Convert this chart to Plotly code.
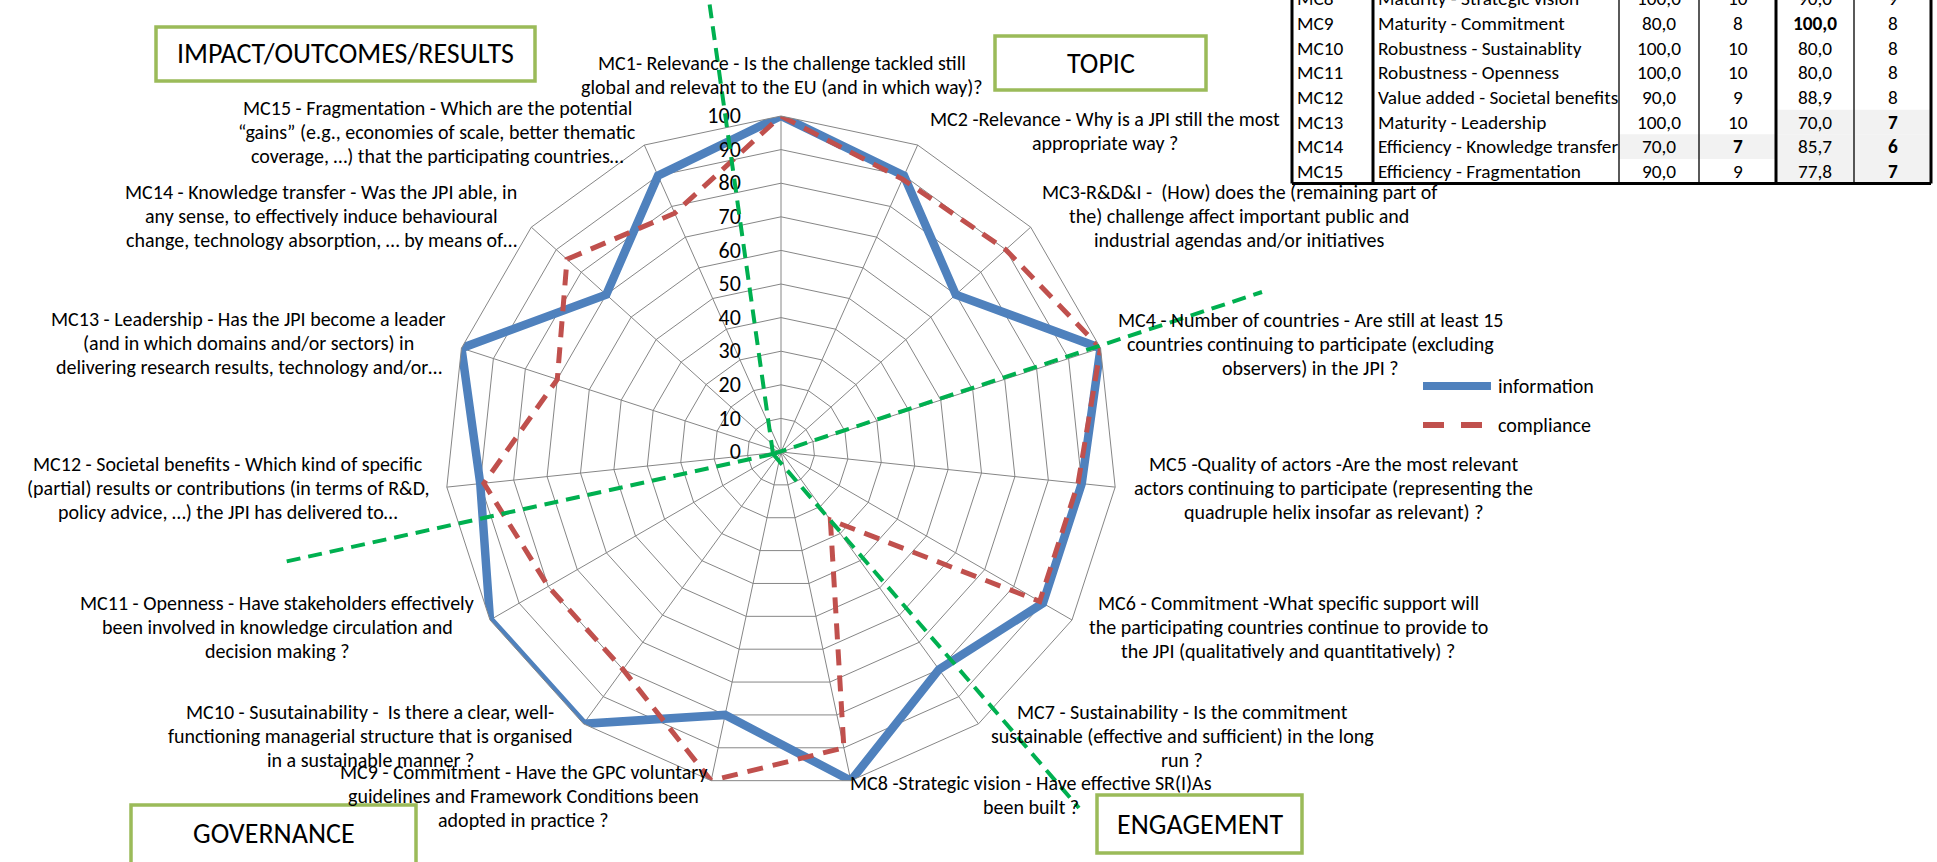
import plotly.graph_objects as go

# ---- data -------------------------------------------------------------
codes = ["MC1", "MC2", "MC3", "MC4", "MC5", "MC6", "MC7", "MC8",
         "MC9", "MC10", "MC11", "MC12", "MC13", "MC14", "MC15"]

info_score = [100, 90, 70, 100, 90, 90, 80, 100, 80, 100, 100, 90, 100, 70, 90]
compliance_score = [100, 88.9, 90, 100, 88.9, 88.9, 25, 90, 100, 80, 80, 88.9, 70, 85.7, 77.8]

axis_labels = [
    "MC1- Relevance - Is the challenge tackled still<br>global and relevant to the EU (and in which way)?",
    "MC2 -Relevance - Why is a JPI still the most<br>appropriate way ?",
    "MC3-R&D&I -  (How) does the (remaining part of<br>the) challenge affect important public and<br>industrial agendas and/or initiatives",
    "MC4 - Number of countries - Are still at least 15<br>countries continuing to participate (excluding<br>observers) in the JPI ?",
    "MC5 -Quality of actors -Are the most relevant<br>actors continuing to participate (representing the<br>quadruple helix insofar as relevant) ?",
    "MC6 - Commitment -What specific support will<br>the participating countries continue to provide to<br>the JPI (qualitatively and quantitatively) ?",
    "MC7 - Sustainability - Is the commitment<br>sustainable (effective and sufficient) in the long<br>run ?",
    "MC8 -Strategic vision - Have effective SR(I)As<br>been built ?",
    "MC9 - Commitment - Have the GPC voluntary<br>guidelines and Framework Conditions been<br>adopted in practice ?",
    "MC10 - Susutainability -  Is there a clear, well-<br>functioning managerial structure that is organised<br>in a sustainable manner ?",
    "MC11 - Openness - Have stakeholders effectively<br>been involved in knowledge circulation and<br>decision making ?",
    "MC12 - Societal benefits - Which kind of specific<br>(partial) results or contributions (in terms of R&D,<br>policy advice, …) the JPI has delivered to…",
    "MC13 - Leadership - Has the JPI become a leader<br>(and in which domains and/or sectors) in<br>delivering research results, technology and/or…",
    "MC14 - Knowledge transfer - Was the JPI able, in<br>any sense, to effectively induce behavioural<br>change, technology absorption, … by means of…",
    "MC15 - Fragmentation - Which are the potential<br>“gains” (e.g., economies of scale, better thematic<br>coverage, …) that the participating countries…",
]

section_titles = ["IMPACT/OUTCOMES/RESULTS", "TOPIC", "GOVERNANCE", "ENGAGEMENT"]

series_names = ["information", "compliance"]

# summary table (rows MC8 - MC15)
table_first = 7
table_names = ["Maturity - Strategic vision", "Maturity - Commitment", "Robustness - Sustainablity",
               "Robustness - Openness", "Value added - Societal benefits", "Maturity - Leadership",
               "Efficiency - Knowledge transfer", "Efficiency - Fragmentation"]
info_count = [10, 8, 10, 10, 9, 10, 7, 9]
compliance_count = [9, 8, 8, 8, 8, 7, 6, 7]
emphasised = {("MC9", "compliance")}

# ---- geometry ---------------------------------------------------------
W, H = 1937, 862
FONT = "Carlito, Calibri, Lato, sans-serif"


def px(x):
    return x / W


def py(y):
    return 1 - y / H


CX, CY, R = 781, 452, 336
BLUE, RED, GREEN, BOX, GRID = "#4F81BD", "#C0504D", "#00B050", "#9BBB59", "#868686"

fig = go.Figure()

fig.add_trace(go.Scatterpolar(
    r=info_score + info_score[:1], theta=codes + codes[:1], mode="lines",
    name=series_names[0], line=dict(color=BLUE, width=8.5), showlegend=False))
fig.add_trace(go.Scatterpolar(
    r=compliance_score + compliance_score[:1], theta=codes + codes[:1], mode="lines",
    name=series_names[1], line=dict(color=RED, width=5, dash="16px,10px"), showlegend=False))

shapes = []
annotations = []

# category labels around the web
label_centres = [(782, 75), (1105, 131), (1239, 216), (1310, 344), (1333, 488),
                 (1288, 627), (1182, 736), (1031, 795), (523, 796), (370, 736),
                 (277, 627), (228, 488), (249, 343), (321, 216), (437, 132)]
LINE_H = 24.4
for text, (x, y) in zip(axis_labels, label_centres):
    lines = text.split("<br>")
    top = y - (len(lines) - 1) * LINE_H / 2
    for i, ln in enumerate(lines):
        annotations.append(dict(
            x=px(x), y=py(top + i * LINE_H), xref="paper", yref="paper",
            text=ln, showarrow=False, xanchor="center", yanchor="middle",
            font=dict(family=FONT, size=20, color="black")))

# section boxes
boxes = [(156, 27, 535, 81), (995, 36, 1206, 90), (131, 805, 416, 866), (1097, 795, 1302, 853)]
for title, (x0, y0, x1, y1) in zip(section_titles, boxes):
    shapes.append(dict(type="rect", xref="paper", yref="paper",
                       x0=px(x0), x1=px(x1), y0=py(y0), y1=py(y1),
                       line=dict(color=BOX, width=3.5), fillcolor="white", layer="above"))
    yc = (y0 + min(y1, 861)) / 2
    annotations.append(dict(x=px((x0 + x1) / 2), y=py(yc), xref="paper", yref="paper",
                            text=title, showarrow=False, xanchor="center", yanchor="middle",
                            font=dict(family=FONT, size=28, color="black")))

# green separators between groups of criteria
hub = (773, 454)
for end in [(709, 0), (1262, 292), (1079, 808), (284, 562)]:
    shapes.append(dict(type="line", xref="paper", yref="paper",
                       x0=px(hub[0]), y0=py(hub[1]), x1=px(end[0]), y1=py(end[1]),
                       line=dict(color=GREEN, width=4, dash="14px,8px"), layer="above"))

# legend
leg_x0, leg_x1, leg_text = 1423, 1491, 1496
for name, yy, st in [(series_names[0], 386, dict(color=BLUE, width=8)),
                     (series_names[1], 425, dict(color=RED, width=6, dash="21px,17px"))]:
    shapes.append(dict(type="line", xref="paper", yref="paper",
                       x0=px(leg_x0), x1=px(leg_x1), y0=py(yy), y1=py(yy), line=st))
    annotations.append(dict(x=px(leg_text), y=py(yy), xref="paper", yref="paper",
                            text=name, showarrow=False, xanchor="left", yanchor="middle",
                            font=dict(family=FONT, size=20, color="black")))

# summary table
col_edges = [1292, 1373, 1619, 1699, 1776, 1854, 1931]
row_h = 24.6
row0 = -1.0
t_bottom = row0 + (len(table_names) - 0.5) * row_h
TFONT = 19.3


def fmt(v):
    return f"{v:.1f}".replace(".", ",")


for i, name in enumerate(table_names):
    k = table_first + i
    code = codes[k]
    yc = row0 + i * row_h
    pairs = [("information", info_score[k], info_count[i], 2),
             ("compliance", compliance_score[k], compliance_count[i], 4)]
    for series, pct, cnt, c in pairs:
        low = cnt < 8
        if low:
            shapes.append(dict(type="rect", xref="paper", yref="paper", layer="below",
                               x0=px(col_edges[c]), x1=px(col_edges[c + 2]),
                               y0=py(yc - row_h / 2), y1=py(yc + row_h / 2),
                               line=dict(width=0), fillcolor="#F2F2F2"))
        bold_pct = (code, series) in emphasised
        cells = [(fmt(pct), c, bold_pct), (str(cnt), c + 1, low)]
        for txt, col, bold in cells:
            annotations.append(dict(
                x=px((col_edges[col] + col_edges[col + 1]) / 2), y=py(yc), xref="paper", yref="paper",
                text=f"<b>{txt}</b>" if bold else txt, showarrow=False,
                xanchor="center", yanchor="middle", font=dict(family=FONT, size=TFONT, color="black")))
    for txt, col in [(code, 0), (name, 1)]:
        annotations.append(dict(
            x=px(col_edges[col] + 3), y=py(yc), xref="paper", yref="paper", text=txt,
            showarrow=False, xanchor="left", yanchor="middle",
            font=dict(family=FONT, size=TFONT, color="black")))

thick = {0, 1, 4, 6}
for j, xe in enumerate(col_edges):
    shapes.append(dict(type="line", xref="paper", yref="paper", x0=px(xe), x1=px(xe),
                       y0=py(-2), y1=py(t_bottom),
                       line=dict(color="black", width=3 if j in thick else 1.3)))
shapes.append(dict(type="line", xref="paper", yref="paper", x0=px(col_edges[0]), x1=px(col_edges[-1]),
                   y0=py(t_bottom), y1=py(t_bottom), line=dict(color="black", width=3)))

fig.update_layout(
    width=W, height=H, margin=dict(l=0, r=0, t=0, b=0),
    paper_bgcolor="white", plot_bgcolor="white", showlegend=False,
    font=dict(family=FONT, color="black"),
    polar=dict(
        domain=dict(x=[px(CX - R), px(CX + R)], y=[py(CY + R), py(CY - R)]),
        bgcolor="white", gridshape="linear",
        radialaxis=dict(range=[0, 100], tick0=0, dtick=10, angle=90, tickangle=90,
                        side="counterclockwise", showline=False,
                        ticks="outside", ticklen=32, tickcolor="rgba(0,0,0,0)",
                        gridcolor=GRID, gridwidth=1,
                        tickfont=dict(family=FONT, size=22, color="black")),
        angularaxis=dict(direction="clockwise", rotation=90, showticklabels=False, ticks="",
                         gridcolor=GRID, gridwidth=1, showline=True, linecolor=GRID, linewidth=1),
    ),
    shapes=shapes, annotations=annotations,
)

fig.write_html("out.html")
